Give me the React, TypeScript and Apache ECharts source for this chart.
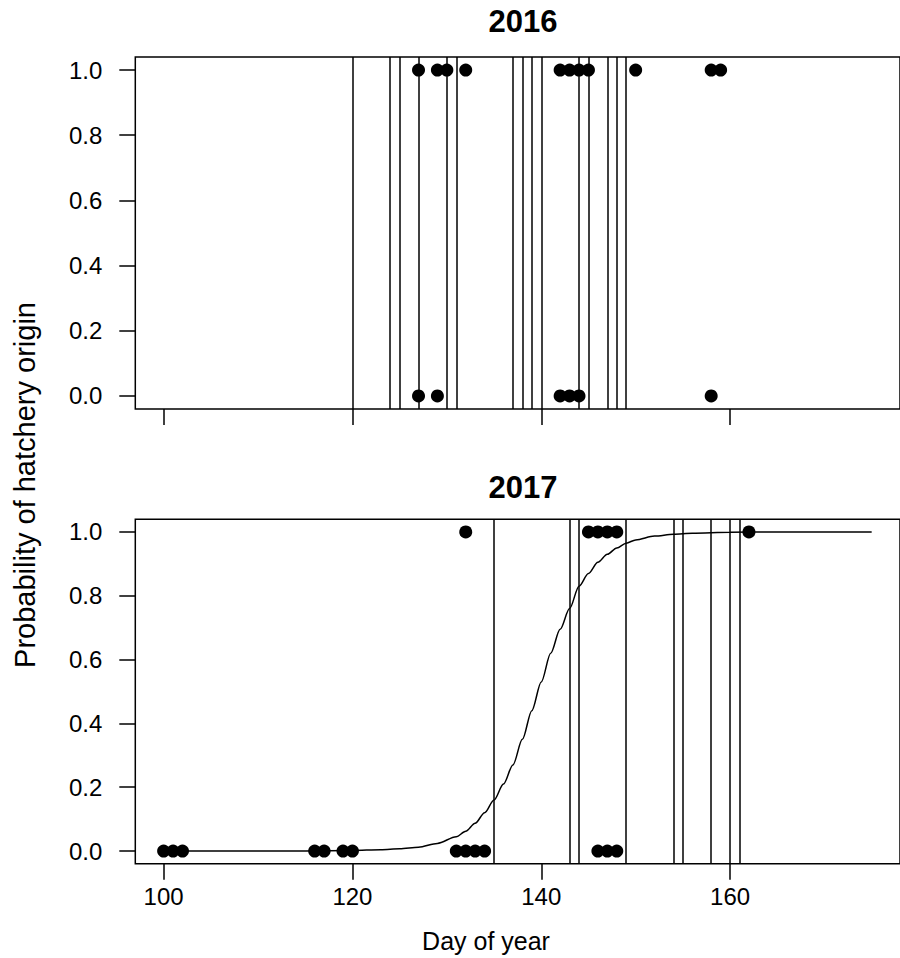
import React, { useEffect, useRef } from "react";
import * as echarts from "echarts";

// ---- data ----
const xTicks = [100, 120, 140, 160];
const yTicks = [0, 0.2, 0.4, 0.6, 0.8, 1.0];

// 2016
const days2016Hatchery = [127, 129, 130, 132, 142, 143, 144, 145, 150, 158, 159];
const days2016Wild = [127, 129, 142, 143, 144, 158];
const lines2016 = [120, 124, 125, 127, 130, 131, 137, 138, 139, 140, 144, 145, 147, 148, 149];

// 2017
const days2017Hatchery = [132, 145, 146, 147, 148, 162];
const days2017Wild = [100, 101, 102, 116, 117, 119, 120, 131, 132, 133, 134, 146, 147, 148];
const lines2017 = [135, 143, 144, 149, 154, 155, 158, 160, 161];

// fitted curve (2017)
const curveDays = [100, 110, 115, 120, 123, 125, 127, 129, 131, 132, 133, 134, 135, 136, 137, 138, 139, 140, 141, 142, 143, 144, 145, 146, 147, 148, 149, 150, 152, 154, 156, 160, 165, 175];
const curveProb = [0.0, 0.0002, 0.0005, 0.002, 0.004, 0.007, 0.012, 0.024, 0.045, 0.062, 0.087, 0.12, 0.16, 0.21, 0.27, 0.35, 0.44, 0.53, 0.62, 0.695, 0.76, 0.83, 0.87, 0.905, 0.93, 0.95, 0.965, 0.975, 0.987, 0.993, 0.996, 0.999, 1.0, 1.0];

const FONT = "'Liberation Sans', Arial, sans-serif";
const BLACK = "#000";

export default function App() {
  const ref = useRef<HTMLDivElement>(null);

  useEffect(() => {
    if (!ref.current) return;
    const chart = echarts.init(ref.current, undefined, { renderer: "svg" });

    const pts = (days: number[], v: number) => days.map((d) => [d, v]);

    const makeX = (gridIndex: number, labels: boolean) => ({
      type: "value" as const,
      gridIndex,
      min: 97,
      max: 178,
      position: "bottom" as const,
      axisLine: { show: false, onZero: false },
      splitLine: { show: false },
      axisTick: {
        show: true,
        inside: false,
        length: 16,
        customValues: xTicks,
        lineStyle: { color: BLACK, width: 1.5 },
      },
      axisLabel: {
        show: labels,
        customValues: xTicks,
        margin: 21,
        color: BLACK,
        fontSize: 24,
        fontFamily: FONT,
      },
    });

    const makeY = (gridIndex: number) => ({
      type: "value" as const,
      gridIndex,
      min: -0.04,
      max: 1.04,
      position: "left" as const,
      axisLine: { show: false, onZero: false },
      splitLine: { show: false },
      axisTick: {
        show: true,
        inside: false,
        length: 16,
        customValues: yTicks,
        lineStyle: { color: BLACK, width: 1.5 },
      },
      axisLabel: {
        show: true,
        customValues: yTicks,
        margin: 33,
        color: BLACK,
        fontSize: 24,
        fontFamily: FONT,
        formatter: (v: number) => v.toFixed(1),
      },
    });

    const vlines = (vals: number[]) => ({
      symbol: ["none", "none"],
      silent: true,
      animation: false,
      label: { show: false },
      emphasis: { disabled: true },
      lineStyle: { color: BLACK, width: 1.5, type: "solid" },
      data: vals.map((v) => ({ xAxis: v })),
    });

    const dotStyle = { color: BLACK, opacity: 1 };

    chart.setOption({
      animation: false,
      grid: [
        { left: 135.3, top: 57, width: 776, height: 352, show: true, borderColor: BLACK, borderWidth: 1.5, backgroundColor: "transparent" },
        { left: 135.3, top: 519.2, width: 776, height: 344.6, show: true, borderColor: BLACK, borderWidth: 1.5, backgroundColor: "transparent" },
      ],
      xAxis: [makeX(0, false), makeX(1, true)],
      yAxis: [makeY(0), makeY(1)],
      series: [
        {
          type: "scatter",
          xAxisIndex: 0,
          yAxisIndex: 0,
          symbolSize: 13,
          itemStyle: dotStyle,
          data: [...pts(days2016Hatchery, 1), ...pts(days2016Wild, 0)],
          markLine: vlines(lines2016),
          z: 3,
        },
        {
          type: "scatter",
          xAxisIndex: 1,
          yAxisIndex: 1,
          symbolSize: 13,
          itemStyle: dotStyle,
          data: [...pts(days2017Hatchery, 1), ...pts(days2017Wild, 0)],
          markLine: vlines(lines2017),
          z: 3,
        },
        {
          type: "line",
          xAxisIndex: 1,
          yAxisIndex: 1,
          showSymbol: false,
          smooth: 0.3,
          smoothMonotone: "x",
          lineStyle: { color: BLACK, width: 1.5 },
          data: curveDays.map((d, i) => [d, curveProb[i]]),
          z: 2,
        },
      ],
      graphic: [
        {
          type: "text",
          x: 523,
          y: 21.5,
          style: { text: "2016", font: `bold 31px ${FONT}`, fill: BLACK, align: "center", verticalAlign: "middle" },
        },
        {
          type: "text",
          x: 523,
          y: 487.5,
          style: { text: "2017", font: `bold 31px ${FONT}`, fill: BLACK, align: "center", verticalAlign: "middle" },
        },
        {
          type: "text",
          x: 486,
          y: 941,
          style: { text: "Day of year", font: `25px ${FONT}`, fill: BLACK, align: "center", verticalAlign: "middle" },
        },
        {
          type: "text",
          x: 25,
          y: 485,
          rotation: Math.PI / 2,
          style: { text: "Probability of hatchery origin", font: `29px ${FONT}`, fill: BLACK, align: "center", verticalAlign: "middle" },
        },
      ],
    });

    return () => chart.dispose();
  }, []);

  return (
    <div
      ref={ref}
      style={{ position: "absolute", left: 0, top: 0, width: 900, height: 958, background: "#fff" }}
    />
  );
}
